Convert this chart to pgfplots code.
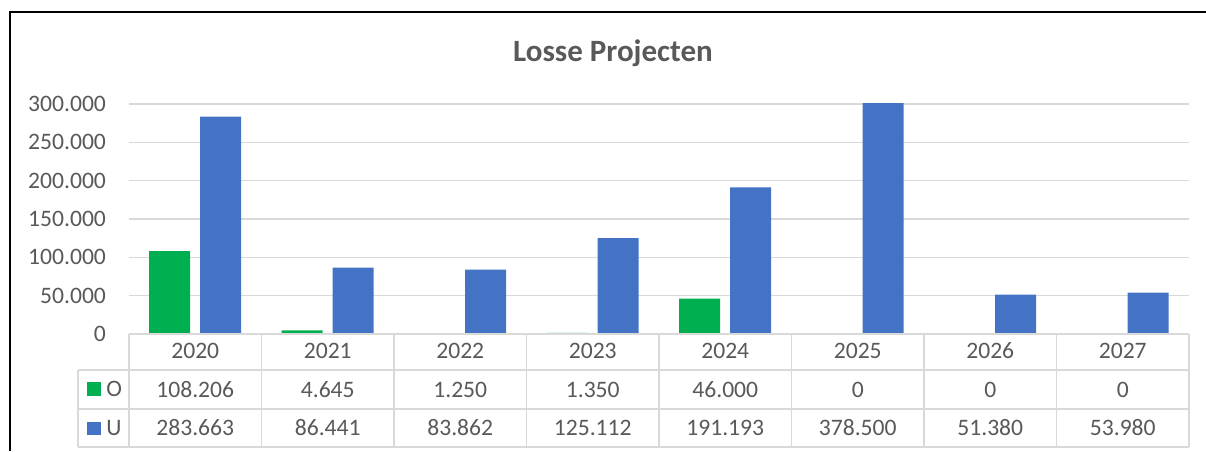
\documentclass[border=0pt]{standalone}
\usepackage{pgfplots}
\usepackage{pgfplotstable}
\pgfplotsset{compat=1.18}
\usepackage{fontspec}
\setmainfont{Carlito}

\definecolor{txt}{HTML}{595959}
\definecolor{grd}{HTML}{D9D9D9}
\definecolor{cO}{HTML}{00B050}
\definecolor{cU}{HTML}{4472C4}

\pgfkeys{/pgf/number format/.cd, fixed, precision=0, 1000 sep={.}, assume math mode=true}

\pgfplotstableread{
x year O U
0 2020 108206 283663
1 2021 4645 86441
2 2022 1250 83862
3 2023 1350 125112
4 2024 46000 191193
5 2025 0 378500
6 2026 0 51380
7 2027 0 53980
}\data

\begin{document}
\begin{tikzpicture}[x=0.5pt,y=0.5pt]
  \path[use as bounding box] (0,0) rectangle (1206,451);

  % plot area: 129..1189 px wide, 117..347 px from the bottom
  \begin{axis}[
      at={(64.5pt,58.5pt)}, anchor=south west,
      scale only axis,
      width=530pt, height=115pt,
      xmin=-0.5, xmax=7.5,
      ymin=0, ymax=300000,
      ytick={0,50000,...,300000},
      scaled y ticks=false,
      xtick=data,
      xticklabels from table={\data}{year},
      ybar=5pt,
      bar width=20.5pt,
      axis line style={draw=none},
      major tick length=0pt,
      ymajorgrids,
      grid style={grd, line width=0.8pt},
      ticklabel style={font=\fontsize{11.8}{14}\selectfont, text=txt},
      yticklabel style={xshift=-8pt},
      xticklabel style={anchor=center, yshift=-8.5pt},
      clip=true,
    ]
    \addplot[fill=cO, draw=none] table[x=x, y=O] {\data};
    \addplot[fill=cU, draw=none] table[x=x, y=U] {\data};
  \end{axis}

  % data table grid
  \begin{scope}[grd, line width=0.8pt]
    \draw (129,117) -- (1189,117);
    \draw (78,81) -- (1189,81);
    \draw (78,42) -- (1189,42);
    \draw (78,4) -- (1189,4);
    \draw (78,81) -- (78,4);
    \foreach \k in {0,...,8} {
      \draw ({129+132.5*\k},117) -- ({129+132.5*\k},4);
    }
  \end{scope}

  % legend keys
  \fill[cO] (87,55) rectangle (101,69);
  \fill[cU] (87,16) rectangle (101,29);
  \node[anchor=west, text=txt, font=\fontsize{11.8}{14}\selectfont, inner sep=0pt] at (106,62) {O};
  \node[anchor=west, text=txt, font=\fontsize{11.8}{14}\selectfont, inner sep=0pt] at (106,23) {U};

  % table values
  \foreach \i in {0,...,7} {
    \pgfplotstablegetelem{\i}{O}\of\data \let\vO\pgfplotsretval
    \pgfplotstablegetelem{\i}{U}\of\data \let\vU\pgfplotsretval
    \node[text=txt, font=\fontsize{11.8}{14}\selectfont] at ({195.25+132.5*\i},61.5) {\pgfmathprintnumber{\vO}};
    \node[text=txt, font=\fontsize{11.8}{14}\selectfont] at ({195.25+132.5*\i},23) {\pgfmathprintnumber{\vU}};
  }

  % title
  \node[anchor=base, text=txt, font=\fontsize{15.5}{18}\selectfont\bfseries] at (613,389) {Losse Projecten};

  % chart frame
  \draw[black, line width=1pt] (10,0) -- (10,439) -- (1206,439);
\end{tikzpicture}
\end{document}
